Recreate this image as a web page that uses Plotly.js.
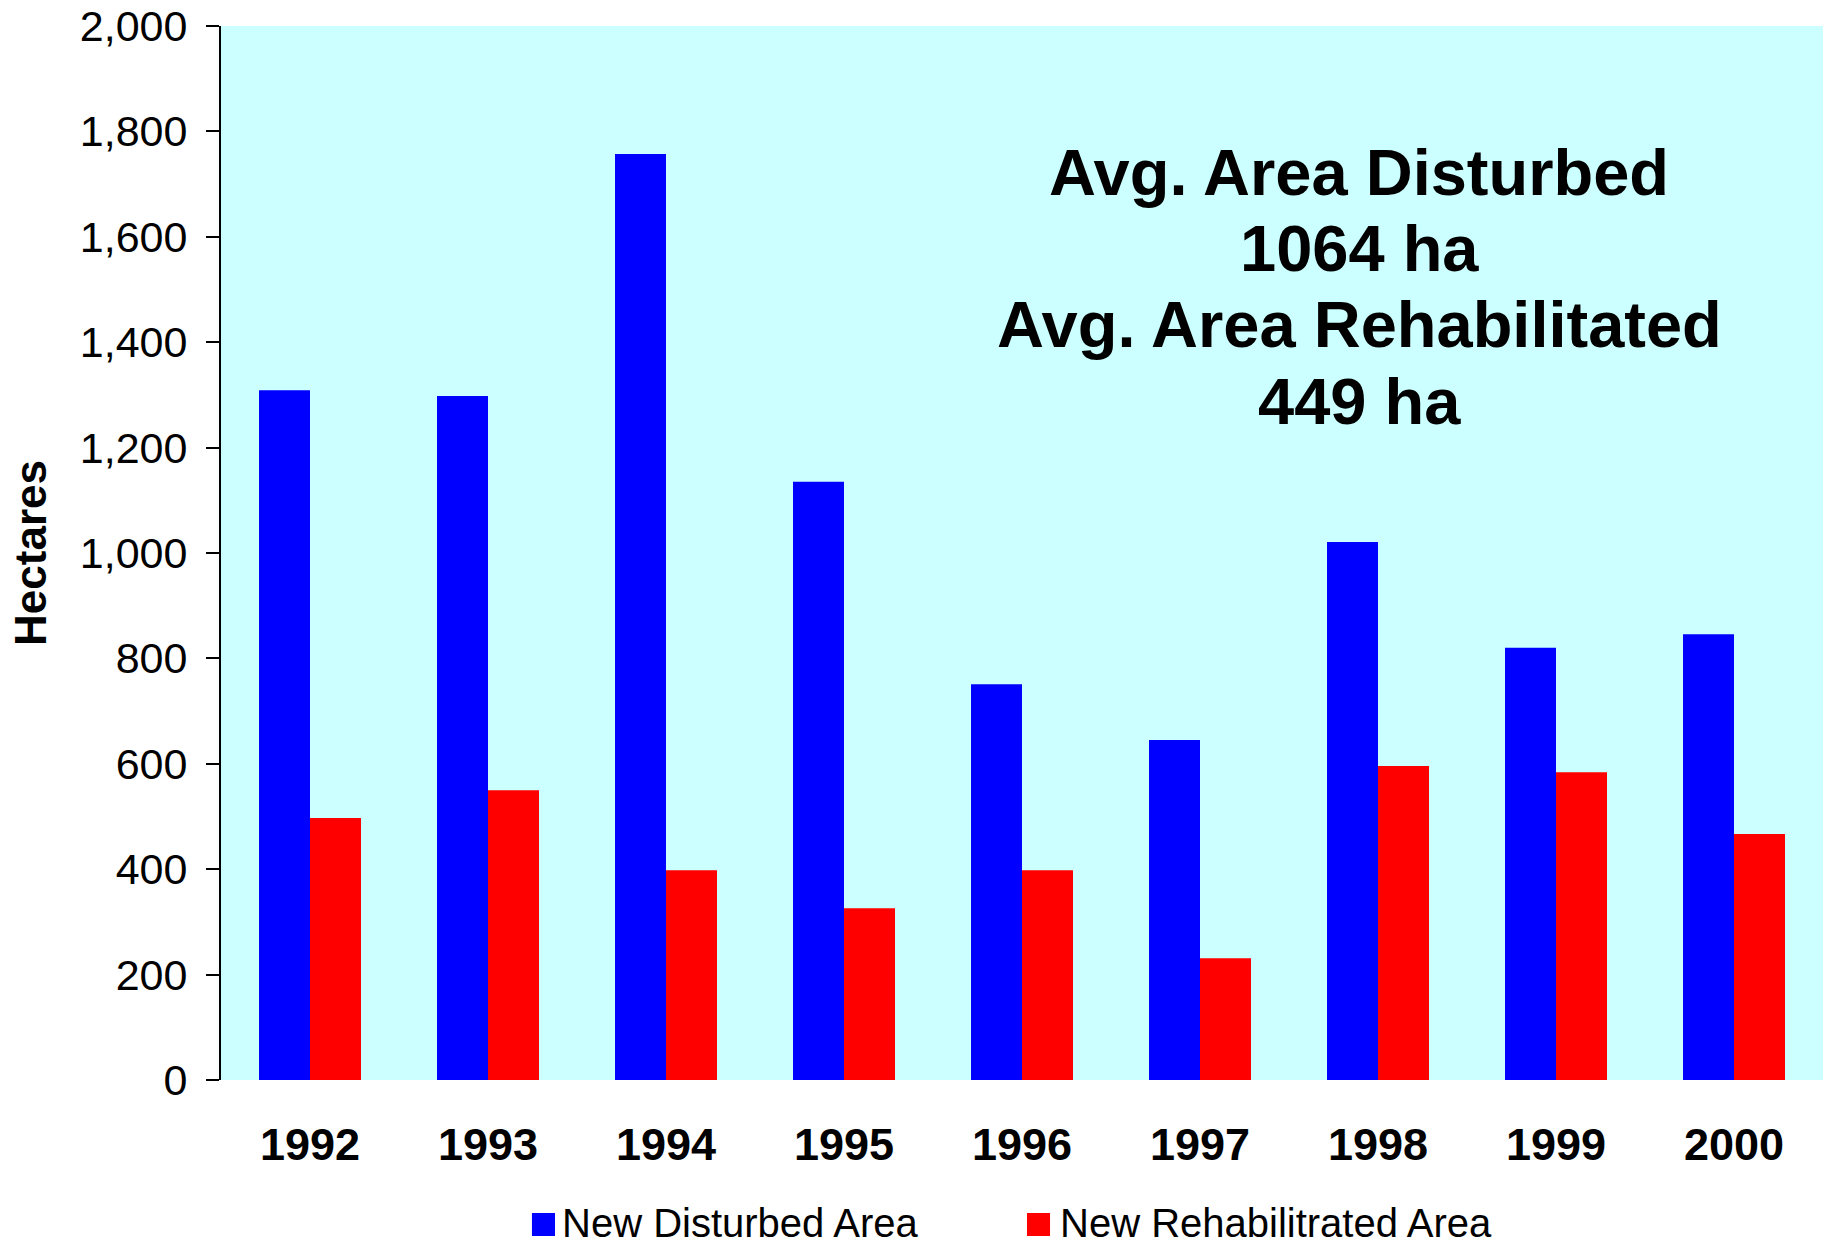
<!DOCTYPE html>
<html>
<head>
<meta charset="utf-8">
<script src="https://cdn.plot.ly/plotly-3.0.1.min.js"></script>
<style>html,body{margin:0;padding:0;background:#fff;}#chart{width:1829px;height:1248px;}</style>
</head>
<body>
<div id="chart"></div>
<script>
const years = ['1992','1993','1994','1995','1996','1997','1998','1999','2000'];
const disturbed = [1309, 1298, 1757, 1135, 751, 645, 1021, 820, 846];
const rehabilitated = [497, 550, 398, 326, 398, 231, 596, 584, 467];
const seriesNames = ['New Disturbed Area', 'New Rehabilitrated Area'];
const noteLines = ['Avg. Area Disturbed', '1064 ha', 'Avg. Area Rehabilitated', '449 ha'];
const yTicks = [0, 200, 400, 600, 800, 1000, 1200, 1400, 1600, 1800, 2000];

const FONT = 'Arial, "Liberation Sans", sans-serif';
const colors = ['#0000FF', '#FF0000'];

const traces = [
  {type: 'bar', x: years, y: disturbed, name: seriesNames[0], marker: {color: colors[0]}, showlegend: false},
  {type: 'bar', x: years, y: rehabilitated, name: seriesNames[1], marker: {color: colors[1]}, showlegend: false}
];

const noteY = [0.8606, 0.7885, 0.7164, 0.6434];
const annotations = noteLines.map((t, i) => ({
  text: '<b>' + t + '</b>', xref: 'paper', yref: 'paper', x: 0.7104, y: noteY[i],
  xanchor: 'center', yanchor: 'middle', showarrow: false,
  font: {family: FONT, size: 65, color: '#000'}
}));

// legend (manual, larger swatches)
const legX = [0.2125, 0.5228];
const shapes = [];
const swX = [[0.1941, 0.2085], [0.5031, 0.5175]];
seriesNames.forEach((n, i) => {
  annotations.push({
    text: n, xref: 'paper', yref: 'paper', x: legX[i], y: -0.1357,
    xanchor: 'left', yanchor: 'middle', showarrow: false, borderpad: 0,
    font: {family: FONT, size: 40, color: '#000'}
  });
  shapes.push({
    type: 'rect', xref: 'paper', yref: 'paper', x0: swX[i][0], x1: swX[i][1],
    y0: -0.1480, y1: -0.1262, fillcolor: colors[i], line: {width: 0}
  });
});

const layout = {
  width: 1829, height: 1248,
  margin: {l: 221, r: 6, t: 26, b: 168},
  paper_bgcolor: '#FFFFFF',
  plot_bgcolor: '#CCFFFF',
  barmode: 'group',
  bargap: 0.427,
  bargroupgap: 0,
  showlegend: false,
  font: {family: FONT, color: '#000'},
  xaxis: {
    type: 'category',
    showline: false, ticks: '', showgrid: false, zeroline: false,
    tickfont: {family: FONT, size: 45, weight: 'bold', color: '#000'},
    ticklabelstandoff: 34
  },
  yaxis: {
    range: [0, 2000], tickvals: yTicks, tickformat: ',d',
    showline: true, linecolor: '#000', linewidth: 2,
    ticks: 'outside', ticklen: 13, tickwidth: 2, tickcolor: '#000',
    showgrid: false, zeroline: false,
    tickfont: {family: FONT, size: 43, color: '#000'},
    ticklabelstandoff: 10,
    title: {text: '<b>Hectares</b>', font: {family: FONT, size: 44, color: '#000'}, standoff: 19}
  },
  annotations: annotations,
  shapes: shapes
};

Plotly.newPlot('chart', traces, layout, {displayModeBar: false, staticPlot: true});
</script>
</body>
</html>
